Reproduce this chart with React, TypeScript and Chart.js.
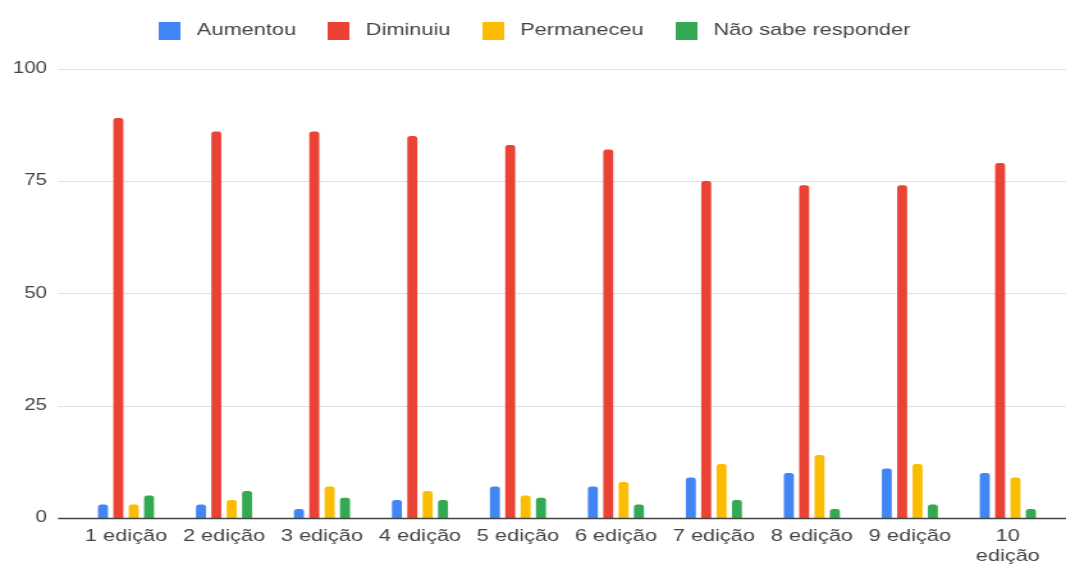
import React, { useEffect, useRef } from "react";
import { Chart, registerables } from "chart.js";

Chart.register(...registerables);

const categories: (string | string[])[] = [
  "1 edição", "2 edição", "3 edição", "4 edição", "5 edição",
  "6 edição", "7 edição", "8 edição", "9 edição", ["10", "edição"],
];
const aumentou = [3, 3, 2, 4, 7, 7, 9, 10, 11, 10];
const diminuiu = [89, 86, 86, 85, 83, 82, 75, 74, 74, 79];
const permaneceu = [3, 4, 7, 6, 5, 8, 12, 14, 12, 9];
const naoSabe = [5, 6, 4.5, 4, 4.5, 3, 4, 2, 3, 2];
const yTicks = [0, 25, 50, 75, 100];

const seriesNames = ["Aumentou", "Diminuiu", "Permaneceu", "Não sabe responder"];
const seriesColors = ["#4285F4", "#EA4335", "#FBBC04", "#34A853"];

// The reference picture is stretched horizontally; draw narrower and stretch.
const STRETCH = 1.28;
const W = Math.round(1066 / STRETCH);
const H = 565;
const FONT = "'Liberation Sans', Arial, sans-serif";

function swatch(color: string) {
  const c = document.createElement("canvas");
  c.width = 17;
  c.height = 18;
  const g = c.getContext("2d")!;
  g.fillStyle = color;
  g.fillRect(0, 0, 17, 18);
  return c;
}

const GRID_LEFT = 45.3;

const gridPlugin = {
  id: "extGrid",
  beforeLayout(chart: any) {
    const lg = chart.legend;
    if (lg && !lg._patched) {
      const f = lg.fit.bind(lg);
      lg.fit = () => {
        f();
        lg.height = 67.5;
      };
      lg._patched = true;
    }
  },
  beforeDatasetsDraw(chart: any) {
    const { ctx, scales } = chart;
    const y = scales.y;
    ctx.save();
    ctx.strokeStyle = "#e0e0e0";
    ctx.lineWidth = 1;
    yTicks.forEach((v) => {
      if (v === 0) return;
      const py = Math.round(y.getPixelForValue(v)) + 0.5;
      ctx.beginPath();
      ctx.moveTo(GRID_LEFT, py);
      ctx.lineTo(W, py);
      ctx.stroke();
    });
    ctx.restore();
  },
  afterDatasetsDraw(chart: any) {
    const { ctx, scales } = chart;
    const py = Math.round(scales.y.getPixelForValue(0)) + 0.5;
    ctx.save();
    ctx.strokeStyle = "#444";
    ctx.lineWidth = 1.3;
    ctx.beginPath();
    ctx.moveTo(GRID_LEFT, py);
    ctx.lineTo(W, py);
    ctx.stroke();
    ctx.restore();
  },
};

export default function App() {
  const ref = useRef<HTMLCanvasElement | null>(null);
  useEffect(() => {
    document.body.style.margin = "0";
    const ctx = ref.current!;
    const values = [aumentou, diminuiu, permaneceu, naoSabe];
    const swatches = seriesColors.map(swatch);
    const chart = new Chart(ctx, {
      type: "bar",
      data: {
        labels: categories as any,
        datasets: values.map((v, i) => ({
          label: seriesNames[i],
          data: v,
          backgroundColor: seriesColors[i],
          borderRadius: { topLeft: 2.5, topRight: 2.5, bottomLeft: 0, bottomRight: 0 },
          borderSkipped: "bottom",
          categoryPercentage: 0.627,
          barPercentage: 0.65,
        })),
      },
      plugins: [gridPlugin],
      options: {
        animation: false,
        responsive: false,
        maintainAspectRatio: false,
        layout: { padding: { left: 6, right: 7.2, top: 1, bottom: 0 } },
        plugins: {
          tooltip: { enabled: false },
          legend: {
            position: "top",
            labels: {
              usePointStyle: true,
              pointStyleWidth: 25,
              boxHeight: 17,
              padding: 21,
              color: "#444",
              font: { family: FONT, size: 17 },
              generateLabels: (c: any) => {
                const items = (Chart.defaults.plugins.legend.labels as any).generateLabels(c);
                return items.map((it: any, i: number) => ({ ...it, pointStyle: swatches[i] }));
              },
            },
          },
        },
        scales: {
          x: {
            grid: { display: false, drawTicks: false },
            border: { display: false },
            afterFit: (axis: any) => {
              axis.height = 47;
            },
            ticks: {
              color: "#444",
              padding: 8,
              maxRotation: 0,
              autoSkip: false,
              font: { family: FONT, size: 17, lineHeight: 1.2 },
            },
          },
          y: {
            min: 0,
            max: 100,
            afterBuildTicks: (axis: any) => {
              axis.ticks = yTicks.map((v) => ({ value: v }));
            },
            afterFit: (axis: any) => {
              axis.width = 54.2;
            },
            grid: { display: false, drawTicks: false },
            border: { display: false },
            ticks: {
              color: "#444",
              padding: 23.5,
              font: { family: FONT, size: 16 },
            },
          },
        },
      },
    });
    return () => chart.destroy();
  }, []);
  return (
    <div style={{ position: "absolute", left: 0, top: 0, width: 1066, height: H, overflow: "hidden" }}>
      <div style={{ width: W, height: H, transform: `scaleX(${1066 / W})`, transformOrigin: "0 0" }}>
        <canvas ref={ref} width={W} height={H} style={{ width: W, height: H, display: "block" }} />
      </div>
    </div>
  );
}
